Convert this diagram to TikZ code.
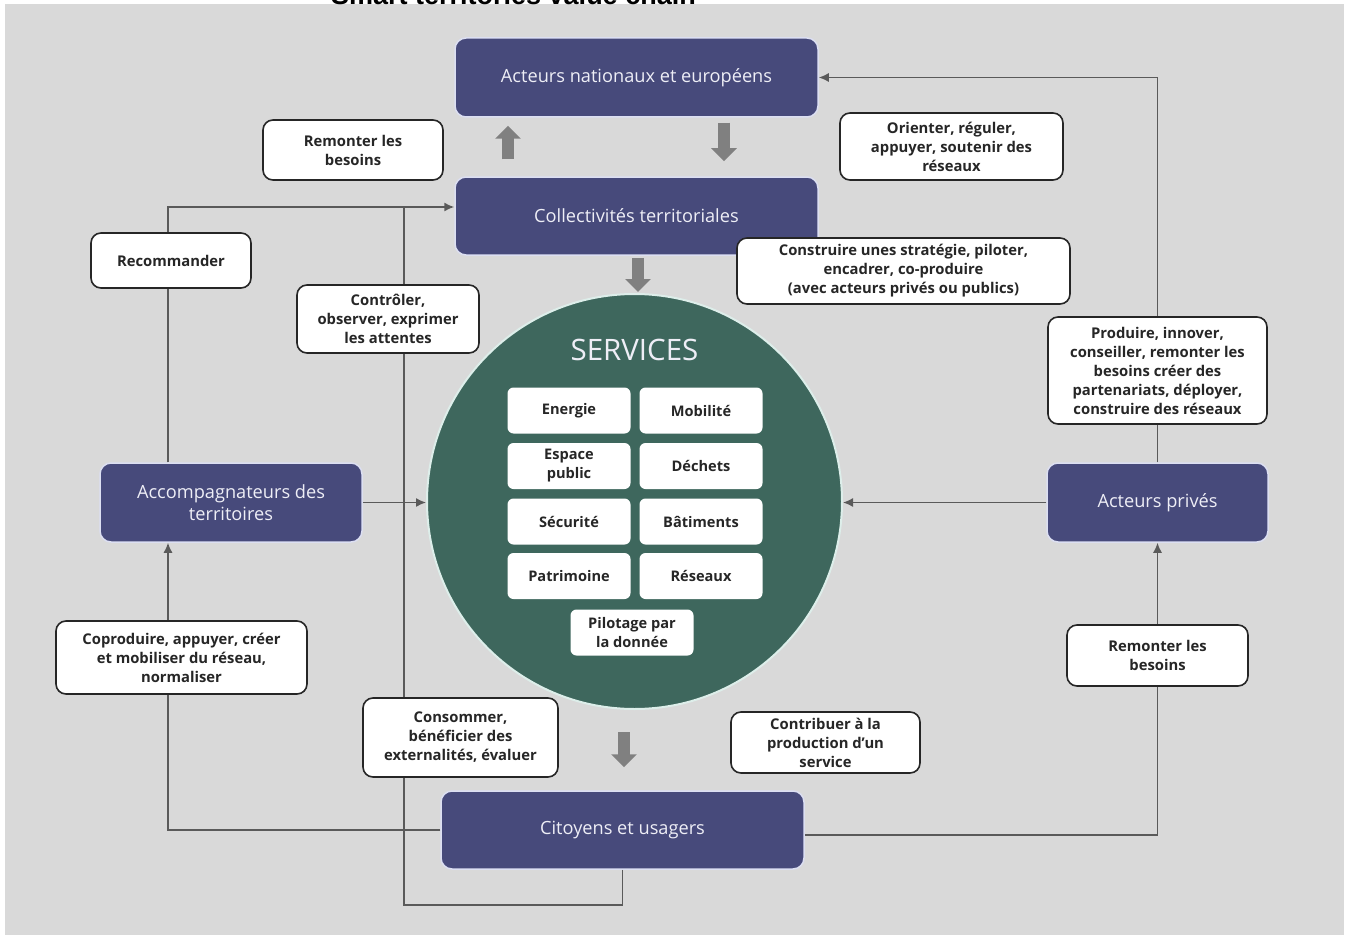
\documentclass[tikz,border=0pt]{standalone}
\usepackage{fontspec}
\setmainfont{Open Sans}
\newfontfamily\titlefont{Liberation Sans}
\usetikzlibrary{arrows.meta}
\definecolor{bgg}{HTML}{D9D9D9}
\definecolor{navy}{HTML}{474A7B}
\definecolor{navyedge}{HTML}{DCDFF2}
\definecolor{svgreen}{HTML}{3E675D}
\definecolor{circedge}{HTML}{DDEEEA}
\definecolor{lineg}{HTML}{5A5A5A}
\definecolor{blockg}{HTML}{808080}
\definecolor{txt}{HTML}{262626}
\definecolor{lighttxt}{HTML}{EEEEF6}
\begin{document}
\begin{tikzpicture}[x=1pt,y=-1pt,
  darkbox/.style={fill=navy, draw=navyedge, line width=1.5pt, rounded corners=11pt,
    text=lighttxt, font=\fontsize{18.2}{22}\selectfont, align=center, inner sep=0pt},
  lbl/.style={fill=white, draw=txt, line width=1.6pt, rounded corners=10pt,
    text=txt, font=\bfseries\fontsize{14.8}{19}\selectfont, align=center, inner sep=2pt},
  svc/.style={fill=white, draw=none, rounded corners=6pt, minimum width=123pt,
    minimum height=46pt, text=txt, font=\bfseries\fontsize{14.6}{19}\selectfont,
    align=center, inner sep=2pt},
  conn/.style={draw=lineg, line width=1.5pt, -{Latex[length=10pt,width=9pt]}},
  plain/.style={draw=lineg, line width=1.5pt},
  blk/.style={draw=blockg, line width=12pt, -{Triangle[width=25pt,length=13pt]}}
]
\useasboundingbox (0,0) rectangle (1349,939);
\clip (0,0) rectangle (1349,939);
\fill[white] (0,0) rectangle (1349,939);
\fill[bgg] (5,4) rectangle (1344,935);
\node[font=\titlefont\bfseries\fontsize{27}{30}\selectfont, anchor=base, inner sep=0pt] (title) at (513.5,5) {Smart territories value chain};

% main actor boxes
\node[darkbox, minimum width=363pt, minimum height=79pt] (nat) at (636.5,77.5) {Acteurs nationaux et européens};
\node[darkbox, minimum width=363pt, minimum height=78pt] (coll) at (636.5,216) {Collectivités territoriales};
\node[darkbox, minimum width=262pt, minimum height=79pt] (acc) at (231,502.5) {Accompagnateurs des\\territoires};
\node[darkbox, minimum width=221pt, minimum height=79pt] (ap) at (1157.5,502.5) {Acteurs privés};
\node[darkbox, minimum width=363pt, minimum height=78pt] (cit) at (622.5,830) {Citoyens et usagers};

% services circle
\node[circle, fill=svgreen, draw=circedge, line width=2pt, minimum size=415pt, inner sep=0pt] (serv) at (634.5,501.5) {};
\node[text=lighttxt, font=\fontsize{29.5}{34}\selectfont, inner sep=0pt, anchor=base] (servt) at (634.5,360) {SERVICES};
\node[svc] (s1) at (569,410.5) {Energie};
\node[svc] (s2) at (701,410.5) {Mobilité};
\node[svc] (s3) at (569,466) {Espace\\public};
\node[svc] (s4) at (701,466) {Déchets};
\node[svc] (s5) at (569,521.5) {Sécurité};
\node[svc] (s6) at (701,521.5) {Bâtiments};
\node[svc] (s7) at (569,576) {Patrimoine};
\node[svc] (s8) at (701,576) {Réseaux};
\node[svc] (s9) at (632,632.5) {Pilotage par\\la donnée};

% connectors
\coordinate (lx) at (168,0);
\coordinate (lb) at (404,905);
\coordinate (lt) at (404,207);
\draw[conn] (ap.north) |- (nat.east);
\draw[conn] (ap.west) -- (ap.west -| serv.east);
\draw[conn] ([yshift=-5pt]cit.east) -| (ap.south);
\draw[conn] (cit.west) -| (acc.south -| lx);
\draw[conn] (acc.north -| lx) |- ([yshift=9pt]coll.west);
\draw[conn] (acc.east) -- (acc.east -| serv.west);
\draw[plain] (cit.south) |- (lb) -- (lt);

% block arrows
\coordinate (ua) at (508,0);
\coordinate (da) at (724,0);
\coordinate (sa) at (638,0);
\coordinate (ca) at (624,0);
\draw[blk, shorten <=17pt, shorten >=8pt] (coll.north -| ua) -- (nat.south -| ua);
\draw[blk, shorten <=5pt, shorten >=15pt] (nat.south -| da) -- (coll.north -| da);
\draw[blk, shorten <=2pt, shorten >=1pt] (coll.south -| sa) -- (serv.north -| sa);
\draw[blk, shorten <=22pt, shorten >=23pt] (serv.south -| ca) -- (cit.north -| ca);

% label boxes
\node[lbl, minimum width=180pt, minimum height=60pt] (rem1) at (353,150) {Remonter les\\besoins};
\node[lbl, minimum width=223pt, minimum height=67pt] (ori) at (951.5,146.5) {Orienter, réguler,\\appuyer, soutenir des\\réseaux};
\node[lbl, minimum width=333pt, minimum height=66pt] (cons) at (903.5,271) {Construire unes stratégie, piloter,\\encadrer, co-produire\\(avec acteurs privés ou publics)};
\node[lbl, minimum width=160pt, minimum height=55pt] (recom) at (171,260.5) {Recommander};
\node[lbl, minimum width=182pt, minimum height=68pt] (ctrl) at (388,319) {Contrôler,\\observer, exprimer\\les attentes};
\node[lbl, minimum width=219pt, minimum height=107pt] (prod) at (1157.5,370.5) {Produire, innover,\\conseiller, remonter les\\besoins créer des\\partenariats, déployer,\\construire des réseaux};
\node[lbl, minimum width=181pt, minimum height=61pt] (rem2) at (1157.5,655.5) {Remonter les\\besoins};
\node[lbl, minimum width=251pt, minimum height=73pt] (copro) at (181.5,657.5) {Coproduire, appuyer, créer\\et mobiliser du réseau,\\normaliser};
\node[lbl, minimum width=195pt, minimum height=79pt] (conso) at (460.5,737.5) {Consommer,\\bénéficier des\\externalités, évaluer};
\node[lbl, minimum width=189pt, minimum height=61pt] (contrib) at (825.5,742.5) {Contribuer à la\\production d’un\\service};
\end{tikzpicture}
\end{document}
